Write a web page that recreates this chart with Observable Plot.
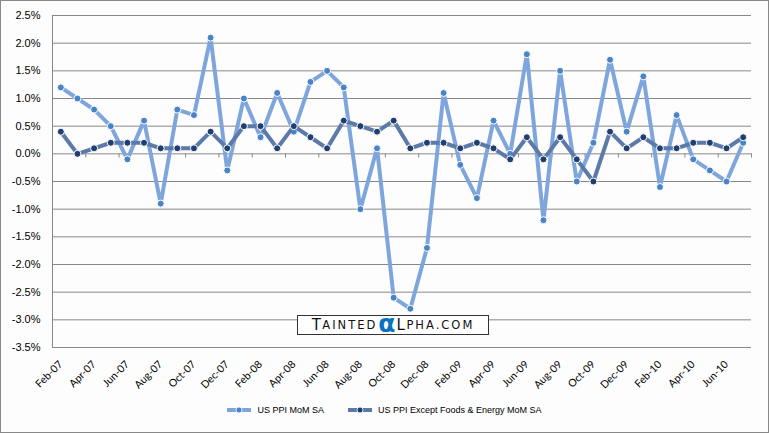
<!DOCTYPE html>
<html>
<head>
<meta charset="utf-8">
<script src="https://cdn.jsdelivr.net/npm/d3@7"></script>
<script src="https://cdn.jsdelivr.net/npm/@observablehq/plot@0.6"></script>
<style>
  html, body { margin: 0; padding: 0; background: #fff; }
  #wrap { position: relative; width: 767px; height: 431px; border: 1px solid #888; background: #fdfdfd; overflow: hidden; }
  #chart svg { display: block; }
  #wm { position: absolute; left: 296px; top: 314px; width: 190px; height: 18px; border: 1px solid #333; background: #fff;
        display: flex; align-items: center; justify-content: center; font-family: "DejaVu Sans", sans-serif; color: #111; white-space: nowrap; }
  #wm .big { font-size: 15px; letter-spacing: 1.5px; }
  #wm .sm { font-size: 11.5px; letter-spacing: 2px; }
  #wm .alpha { font-size: 25px; font-weight: bold; color: #0a72c4; line-height: 16px; margin: 0 1px; position: relative; top: -1px; }
  #legend { position: absolute; top: 404px; left: 0; width: 767px; display: flex; justify-content: center; align-items: center;
            font-family: "Liberation Sans", Arial, sans-serif; font-size: 9px; color: #000; }
  #legend .item { display: flex; align-items: center; }
  #legend .item + .item { margin-left: 24px; }
  #legend svg { margin-right: 6px; }
</style>
</head>
<body>
<div id="wrap">
  <div id="chart"></div>
  <div id="wm"><span class="big">T</span><span class="sm">AINTED</span><span class="alpha">α</span><span class="big">L</span><span class="sm">PHA.COM</span></div>
  <div id="legend"></div>
</div>
<script>
const months = ["Feb-07","Mar-07","Apr-07","May-07","Jun-07","Jul-07","Aug-07","Sep-07","Oct-07","Nov-07","Dec-07",
  "Jan-08","Feb-08","Mar-08","Apr-08","May-08","Jun-08","Jul-08","Aug-08","Sep-08","Oct-08","Nov-08","Dec-08",
  "Jan-09","Feb-09","Mar-09","Apr-09","May-09","Jun-09","Jul-09","Aug-09","Sep-09","Oct-09","Nov-09","Dec-09",
  "Jan-10","Feb-10","Mar-10","Apr-10","May-10","Jun-10","Jul-10"];
const ppi = [1.2,1.0,0.8,0.5,-0.1,0.6,-0.9,0.8,0.7,2.1,-0.3,
  1.0,0.3,1.1,0.4,1.3,1.5,1.2,-1.0,0.1,-2.6,-2.8,-1.7,
  1.1,-0.2,-0.8,0.6,0.0,1.8,-1.2,1.5,-0.5,0.2,1.7,0.4,
  1.4,-0.6,0.7,-0.1,-0.3,-0.5,0.2];
const core = [0.4,0.0,0.1,0.2,0.2,0.2,0.1,0.1,0.1,0.4,0.1,
  0.5,0.5,0.1,0.5,0.3,0.1,0.6,0.5,0.4,0.6,0.1,0.2,
  0.2,0.1,0.2,0.1,-0.1,0.3,-0.1,0.3,-0.1,-0.5,0.4,0.1,
  0.3,0.1,0.1,0.2,0.2,0.1,0.3];
const yTicks = [-3.5,-3.0,-2.5,-2.0,-1.5,-1.0,-0.5,0.0,0.5,1.0,1.5,2.0,2.5];
const seriesNames = ["US PPI MoM SA", "US PPI Except Foods & Energy MoM SA"];
const lineColors = ["#7fa6dc", "#5c7aa8"];
const dotColors = ["#4a84c8", "#1f3e72"];

const rows = months.map((m, i) => ({i, m, ppi: ppi[i], core: core[i]}));
const labelIdx = months.map((m, i) => i).filter(i => i % 2 === 0);
const boundaries = months.map((m, i) => i).filter(i => i % 2 === 1).map(i => i + 0.5);

const chart = Plot.plot({
  width: 767, height: 400,
  marginLeft: 51, marginRight: 17, marginTop: 14, marginBottom: 54,
  style: {background: "transparent", fontFamily: "Liberation Sans, Arial, sans-serif", fontSize: "11px", color: "#000", overflow: "visible"},
  x: {domain: [-0.5, months.length - 0.5], axis: null},
  y: {domain: [-3.5, 2.5], axis: null},
  marks: [
    Plot.ruleY(yTicks, {stroke: "#888", strokeWidth: 1}),
    Plot.ruleX([-0.5], {stroke: "#888", strokeWidth: 1}),
    Plot.ruleX(boundaries, {x: d => d, y1: 0, y2: -0.075, stroke: "#888"}),
    Plot.axisY({ticks: yTicks, tickSize: 0, tickPadding: 12, tickFormat: d => d.toFixed(1) + "%", fontSize: 11, label: null}),
    Plot.axisX({ticks: labelIdx, tickSize: 0, tickRotate: -45, tickPadding: 15, tickFormat: i => months[i], fontFamily: "Lato, sans-serif", fontSize: 10.5, label: null}),
    Plot.line(rows, {x: "i", y: "ppi", stroke: lineColors[0], strokeWidth: 4}),
    Plot.dot(rows, {x: "i", y: "ppi", r: 3.5, fill: dotColors[0], stroke: "white", strokeWidth: 1}),
    Plot.line(rows, {x: "i", y: "core", stroke: lineColors[1], strokeWidth: 4}),
    Plot.dot(rows, {x: "i", y: "core", r: 3.5, fill: dotColors[1], stroke: "white", strokeWidth: 1})
  ]
});
document.getElementById("chart").appendChild(chart);

const legend = document.getElementById("legend");
seriesNames.forEach((name, k) => {
  const item = document.createElement("div");
  item.className = "item";
  item.innerHTML = `<svg width="24" height="8"><line x1="0" y1="4" x2="24" y2="4" stroke="${lineColors[k]}" stroke-width="4"/><circle cx="12" cy="4" r="3" fill="${dotColors[k]}" stroke="white" stroke-width="0.8"/></svg><span>${name.replace("&", "&amp;")}</span>`;
  legend.appendChild(item);
});
</script>
</body>
</html>
